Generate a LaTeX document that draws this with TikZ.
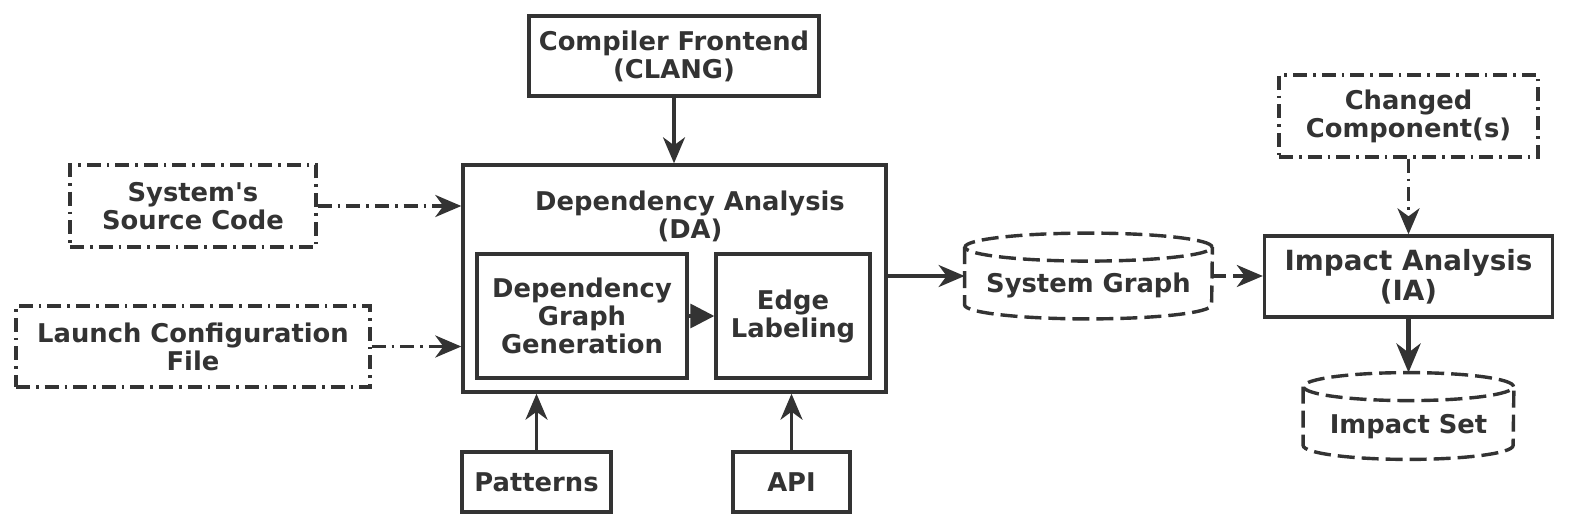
\documentclass[tikz,border=0pt]{standalone}
\usepackage{fontspec}
\setmainfont{DejaVu Sans}[Ligatures=TeXOff]
\usetikzlibrary{arrows.meta}
\definecolor{ink}{HTML}{333333}
\begin{document}
\begin{tikzpicture}[x=0.5pt,y=-0.5pt,
  every node/.style={font=\bfseries\fontsize{12.9}{14}\selectfont, text=ink, align=center, inner sep=0pt},
  box/.style={draw=ink, line width=1.7pt},
  dbox/.style={draw=ink, line width=1.7pt, dash pattern=on 7pt off 3pt on 1.3pt off 3pt},
  cyl/.style={draw=ink, line width=1.7pt, dash pattern=on 8.5pt off 3.5pt},
  conn/.style={draw=ink, line width=1.7pt, -{Stealth[length=13pt,width=11pt,inset=4pt]}},
  dconn/.style={conn, dash pattern=on 7pt off 3pt on 1.3pt off 3pt},
  dashconn/.style={conn, dash pattern=on 7pt off 3.5pt},
  tri/.style={draw=ink, line width=1.7pt, -{Triangle[length=12pt,width=12pt]}},
]
\useasboundingbox (0,0) rectangle (1572,530);

% boxes
\node[box, minimum width=145pt, minimum height=40pt] (cf) at (674,56) {Compiler Frontend\\(CLANG)};
\node[box, minimum width=211.5pt, minimum height=113.5pt] (da) at (674.5,278.5) {};
\node (datitle) at (690,216) {Dependency Analysis\\(DA)};
\node[box, minimum width=105pt, minimum height=62pt] (dgg) at (582,316) {Dependency\\Graph\\Generation};
\node[box, minimum width=77pt, minimum height=62pt] (el) at (793,316) {Edge\\Labeling};
\node[box, minimum width=74.5pt, minimum height=30pt] (pat) at (536.5,482) {Patterns};
\node[box, minimum width=58.5pt, minimum height=30pt] (api) at (791.5,482) {API};
\node[dbox, minimum width=123pt, minimum height=41pt] (ssc) at (193,206) {System's\\Source Code};
\node[dbox, minimum width=177pt, minimum height=40.5pt] (lcf) at (193,346.5) {Launch Configuration\\File};
\node[dbox, minimum width=129.5pt, minimum height=41pt] (cc) at (1408.5,116) {Changed\\Component(s)};
\node[box, minimum width=144pt, minimum height=40.5pt, font=\bfseries\fontsize{13.9}{15}\selectfont] (ia) at (1408.5,276.5) {Impact Analysis\\(IA)};

% cylinders
\node[minimum width=123.5pt, minimum height=42.5pt] (sg) at (1088.5,276) {};
\node (sgtext) at (1088.5,285) {System Graph};
\draw[cyl] ([yshift=-7pt]sg.north west) -- ([yshift=7pt]sg.south west)
  arc[start angle=180, end angle=360, x radius=61.75pt, y radius=7pt] -- ([yshift=-7pt]sg.north east);
\draw[cyl] ([yshift=-7pt]sg.north) ellipse[x radius=61.75pt, y radius=7pt];

\node[minimum width=105pt, minimum height=43pt] (is) at (1408.5,416) {};
\node (istext) at (1408.5,427) {Impact Set};
\draw[cyl] ([yshift=-7pt]is.north west) -- ([yshift=7pt]is.south west)
  arc[start angle=180, end angle=360, x radius=52.5pt, y radius=7pt] -- ([yshift=-7pt]is.north east);
\draw[cyl] ([yshift=-7pt]is.north) ellipse[x radius=52.5pt, y radius=7pt];

% connectors
\draw[conn] (cf.south) -- (cf.south |- da.north);
\draw[dconn] (ssc.east) -- (ssc.east -| da.west);
\draw[dconn] (lcf.east) -- (lcf.east -| da.west);
\draw[conn] (pat.north) -- (pat.north |- da.south);
\draw[conn] (api.north) -- (api.north |- da.south);
\draw[tri] (dgg.east) -- (el.west);
\draw[conn] (da.east |- sg.west) -- (sg.west);
\draw[dashconn] (sg.east) -- (sg.east -| ia.west);
\draw[dconn] (cc.south) -- (cc.south |- ia.north);
\draw[draw=ink, line width=2.6pt, -{Stealth[length=14.5pt,width=12pt,inset=4.5pt]}] (ia.south) -- (is.north);
\end{tikzpicture}
\end{document}
